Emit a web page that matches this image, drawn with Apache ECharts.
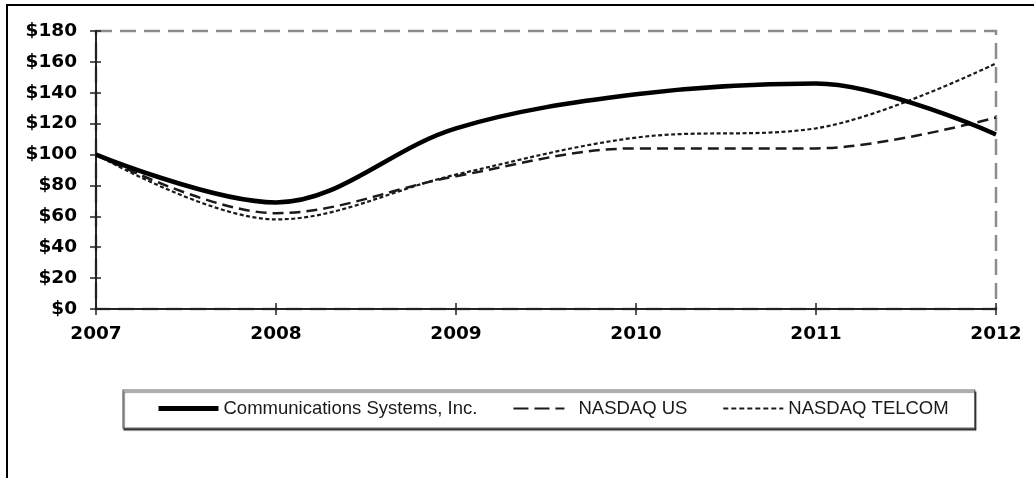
<!DOCTYPE html>
<html>
<head>
<meta charset="utf-8">
<script src="https://cdn.jsdelivr.net/npm/echarts@6/dist/echarts.min.js"></script>
<style>
html,body{margin:0;padding:0;background:#fff;}
#chart{width:1034px;height:478px;}
</style>
</head>
<body>
<div id="chart"></div>
<script>
var years = [2007, 2008, 2009, 2010, 2011, 2012];
var csi = [100, 69, 117, 139, 146, 113];
var nasdaqUS = [100, 62, 86, 104, 104, 124];
var nasdaqTelcom = [100, 58, 87, 111, 117, 159];
var seriesNames = ['Communications Systems, Inc.', 'NASDAQ US', 'NASDAQ TELCOM'];
var yTicks = [0, 20, 40, 60, 80, 100, 120, 140, 160, 180];

function pairs(vals){ return years.map(function(y,i){ return [y, vals[i]]; }); }

var chart = echarts.init(document.getElementById('chart'), null, {renderer:'canvas'});
var axisFont = {fontFamily:'DejaVu Sans', fontWeight:'bold', fontSize:18.5, color:'#000'};
var gridPos = {left:96, right:38, top:31, bottom:169};
var smoothVal = 0.35;

chart.setOption({
  animation:false,
  backgroundColor:'#fff',
  grid: Object.assign({show:true, borderColor:'#8c8c8c', borderWidth:2.5, borderType:[16,8], backgroundColor:'transparent'}, gridPos),
  xAxis:[{
    type:'value', min:years[0], max:years[years.length-1], interval:1,
    axisLine:{show:true, onZero:false, lineStyle:{color:'#222', width:2}},
    axisTick:{show:true, inside:false, length:6, lineStyle:{color:'#222', width:1.5}},
    splitLine:{show:false},
    axisLabel:Object.assign({margin:16, formatter:function(v){return String(v);}}, axisFont)
  },{
    type:'value', position:'bottom', min:years[0], max:years[years.length-1], interval:1,
    axisLine:{show:false}, axisLabel:{show:false}, splitLine:{show:false},
    axisTick:{show:true, inside:true, length:6, lineStyle:{color:'#222', width:1.5}}
  }],
  yAxis:[{
    type:'value', min:yTicks[0], max:yTicks[yTicks.length-1], interval:20,
    axisLine:{show:true, onZero:false, lineStyle:{color:'#222', width:2}},
    axisTick:{show:true, inside:false, length:6, lineStyle:{color:'#222', width:1.5}},
    splitLine:{show:false},
    axisLabel:Object.assign({margin:19, formatter:function(v){return '$' + v;}}, axisFont)
  },{
    type:'value', position:'left', min:yTicks[0], max:yTicks[yTicks.length-1], interval:20,
    axisLine:{show:false}, axisLabel:{show:false}, splitLine:{show:false},
    axisTick:{show:true, inside:true, length:5, lineStyle:{color:'#222', width:1.5}}
  }],
  legend:{
    left:123, top:390, itemGap:35, itemWidth:60, itemHeight:14, z:20,
    padding:[9, 26, 10, 33],
    backgroundColor:'#fff', borderColor:'#666', borderWidth:1.2,
    shadowColor:'rgba(0,0,0,0.7)', shadowOffsetX:1, shadowOffsetY:2, shadowBlur:1,
    itemStyle:{opacity:0},
    textStyle:{fontFamily:'Liberation Sans', fontSize:18.5, color:'#1a1a1a'},
    data:[
      {name:seriesNames[0], lineStyle:{width:5, type:'solid', color:'#000'}},
      {name:seriesNames[1], lineStyle:{width:2, type:[15,6,15,6,9,40], color:'#1a1a1a'}},
      {name:seriesNames[2], lineStyle:{width:1.8, type:[5,3], color:'#1a1a1a'}}
    ]
  },
  series:[
    {name:seriesNames[0], type:'line', smooth:smoothVal, showSymbol:false, symbol:'none', data:pairs(csi),
      lineStyle:{color:'#000', width:4.5, type:'solid'}, itemStyle:{color:'#000'}, z:5},
    {name:seriesNames[1], type:'line', smooth:smoothVal, showSymbol:false, symbol:'none', data:pairs(nasdaqUS),
      lineStyle:{color:'#1a1a1a', width:2.5, type:[11,6]}, itemStyle:{color:'#1a1a1a'}, z:4},
    {name:seriesNames[2], type:'line', smooth:smoothVal, showSymbol:false, symbol:'none', data:pairs(nasdaqTelcom),
      lineStyle:{color:'#1a1a1a', width:2.2, type:[4,2.5]}, itemStyle:{color:'#1a1a1a'}, z:3}
  ],
  graphic:[
    {type:'polyline', shape:{points:[[7,478],[7,5],[1034,5]]}, style:{stroke:'#000', lineWidth:2, fill:null}, z:100}
  ]
});
</script>
</body>
</html>
